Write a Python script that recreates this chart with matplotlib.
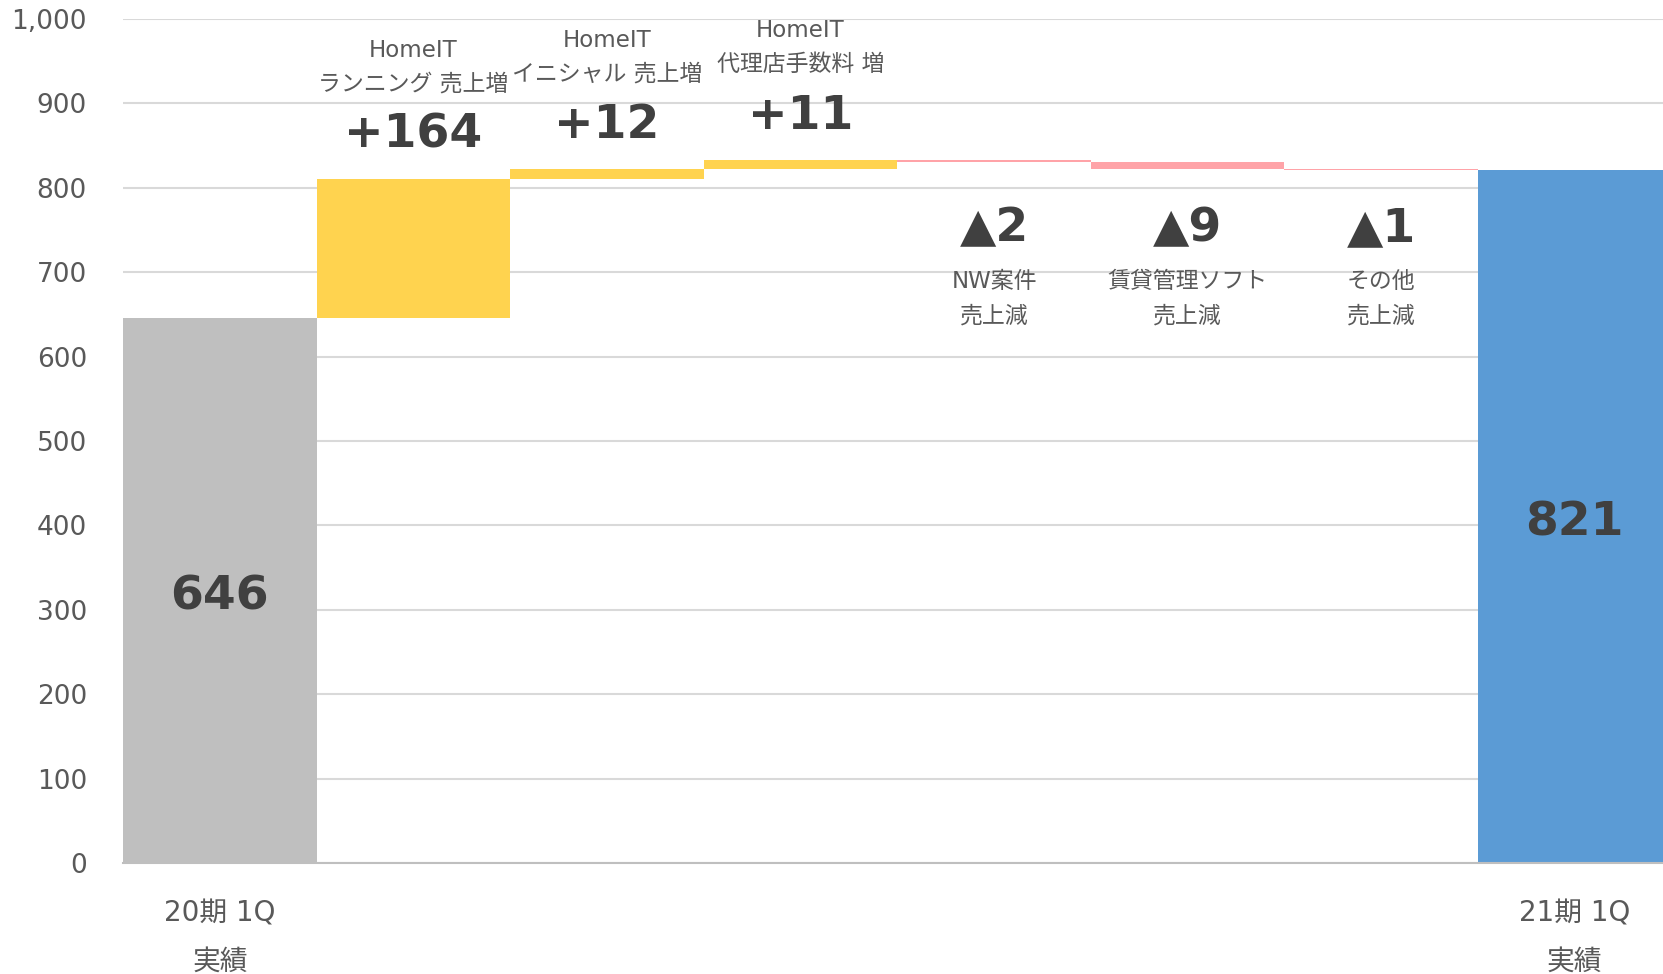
import matplotlib
matplotlib.use("Agg")
import matplotlib.pyplot as plt
import numpy as np

plt.rcParams['font.family'] = ['DejaVu Sans', 'Noto Sans CJK JP']

# ---- data ----
start_label = ['20期 1Q', '実績']
end_label = ['21期 1Q', '実績']
start_value = 646
end_value = 821
change_values = [164, 12, 11, -2, -9, -1]
change_texts = ['+164', '+12', '+11', '▲2', '▲9', '▲1']
change_names = [['HomeIT', 'ランニング 売上増'],
                ['HomeIT', 'イニシャル 売上増'],
                ['HomeIT', '代理店手数料 増'],
                ['NW案件', '売上減'],
                ['賃貸管理ソフト', '売上減'],
                ['その他', '売上減']]
yticks = [0, 100, 200, 300, 400, 500, 600, 700, 800, 900, 1000]

# ---- colors ----
C_START = '#BFBFBF'
C_UP = '#FFD34F'
C_DOWN = '#FFA3A8'
C_END = '#5B9BD5'
C_TXT = '#595959'
C_NUM = '#404040'

NUM_FS = 34
LAB_FS = 16.5

fig = plt.figure(figsize=(16.63, 9.74), dpi=100)
ax = fig.add_axes([0.074, 0.114, 0.926, 0.8665])

n = len(change_values)

# start bar
ax.bar(0, start_value, width=1.0, color=C_START, zorder=3)
# change bars
level = start_value
for i, v in enumerate(change_values):
    bottom = level if v >= 0 else level + v
    ax.bar(i + 1, abs(v), bottom=bottom, width=1.0,
           color=C_UP if v >= 0 else C_DOWN, zorder=3)
    top = level + v if v >= 0 else level
    level += v
    xc = i + 1
    if v >= 0:
        ax.text(xc, top + 52, change_texts[i], ha='center', va='center',
                fontsize=NUM_FS, fontweight='bold', color=C_NUM, clip_on=False)
        ax.text(xc, top + 113, change_names[i][1], ha='center', va='center',
                fontsize=LAB_FS, color=C_TXT, clip_on=False)
        ax.text(xc, top + 153, change_names[i][0], ha='center', va='center',
                fontsize=LAB_FS, color=C_TXT, clip_on=False)
    else:
        ax.text(xc, 751, change_texts[i], ha='center', va='center',
                fontsize=NUM_FS, fontweight='bold', color=C_NUM, clip_on=False)
        ax.text(xc, 689, change_names[i][0], ha='center', va='center',
                fontsize=LAB_FS, color=C_TXT, clip_on=False)
        ax.text(xc, 648, change_names[i][1], ha='center', va='center',
                fontsize=LAB_FS, color=C_TXT, clip_on=False)

# end bar
ax.bar(n + 1, end_value, width=1.0, color=C_END, zorder=3)

ax.text(0, start_value / 2 - 8, str(start_value), ha='center', va='center',
        fontsize=NUM_FS, fontweight='bold', color=C_NUM, zorder=4)
ax.text(n + 1, end_value / 2 - 8, str(end_value), ha='center', va='center',
        fontsize=NUM_FS, fontweight='bold', color=C_NUM, zorder=4)

ax.set_xlim(-0.5, n + 1.456)
ax.set_ylim(0, 1000)
ax.set_yticks(yticks)
ax.set_yticklabels([f'{t:,}' for t in yticks], fontsize=19, color=C_TXT)
ax.tick_params(axis='y', length=0, pad=26)
ax.set_xticks([])
ax.yaxis.grid(True, color='#D9D9D9', linewidth=1.5, zorder=0)
ax.set_axisbelow(True)
for s in ['top', 'right', 'left']:
    ax.spines[s].set_visible(False)
ax.spines['bottom'].set_color('#BFBFBF')
ax.spines['bottom'].set_linewidth(1.5)
ax.spines['bottom'].set_zorder(5)

# category labels under start / end bars
for xc, lab in [(0, start_label), (n + 1, end_label)]:
    ax.text(xc, -60, lab[0], ha='center', va='center', fontsize=20,
            color=C_TXT, clip_on=False)
    ax.text(xc, -117, lab[1], ha='center', va='center', fontsize=20,
            color=C_TXT, clip_on=False)

fig.savefig('out.png', dpi=100, facecolor='white')
